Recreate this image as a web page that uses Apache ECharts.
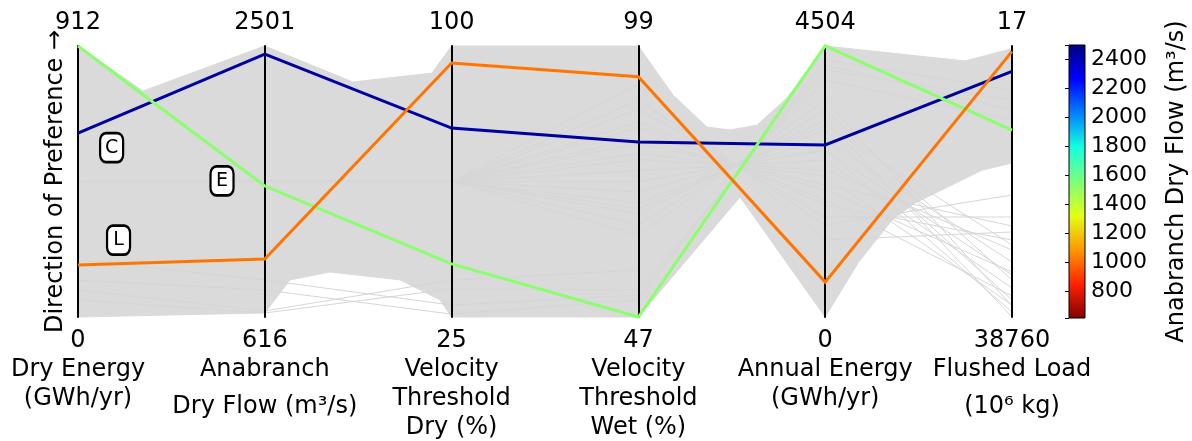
<!DOCTYPE html>
<html><head><meta charset="utf-8">
<script src="https://cdn.jsdelivr.net/npm/echarts@6/dist/echarts.min.js"></script>
<style>html,body{margin:0;padding:0;background:#fff}#c{width:1192px;height:441px}</style>
</head><body><div id="c"></div>
<script>
// ---- data ----
const axisTitles = [
  ['Dry Energy', '(GWh/yr)'],
  ['Anabranch', 'Dry Flow (m³/s)'],
  ['Velocity', 'Threshold', 'Dry (%)'],
  ['Velocity', 'Threshold', 'Wet (%)'],
  ['Annual Energy', '(GWh/yr)'],
  ['Flushed Load', '(10⁶ kg)']
];
const topTicks = [912, 2501, 100, 99, 4504, 17];
const bottomTicks = [0, 616, 25, 47, 0, 38760];

// highlighted solutions (C, E, L)
const highlightNames = ['C', 'E', 'L'];
const solutionC = [619, 2445, 77.3, 80.6, 2859, 3650];
const solutionE = [912, 1527, 39.7, 47, 4504, 12027];
const solutionL = [175, 1019, 95.3, 93.1, 580, 780];

// sparse individual background solutions visible outside the dense band
const sparseSolutions = [
  [57, 644, 32.8, 52.2, 4105, 7738],
  [124, 804, 25.8, 50.3, 4271, 6308],
  [192, 873, 28.3, 51.2, 4188, 9168],
  [91, 658, 35.2, 56.0, 3939, 10598],
  [456, 1559, 62.5, 66.8, 3274, 38760],
  [456, 1559, 62.5, 73.0, 2776, 38045],
  [456, 1559, 62.5, 78.4, 2343, 37044],
  [456, 1559, 62.5, 83.4, 1945, 35758],
  [456, 1559, 62.5, 68.9, 3108, 36330],
  [456, 1559, 62.5, 75.1, 2609, 34614],
  [456, 1559, 62.5, 64.7, 3440, 33471],
  [456, 1559, 62.5, 81.3, 2111, 32327],
  [456, 1559, 62.5, 86.9, 1662, 24464],
  [456, 1559, 62.5, 71.0, 2942, 30898],
  [456, 1559, 62.5, 91.7, 1280, 26608],
  [456, 1559, 62.5, 62.7, 3607, 37187],
  [456, 1559, 62.5, 77.2, 2443, 29182],
  [456, 1559, 62.5, 84.4, 1861, 27752],
  [456, 1559, 62.5, 88.6, 1529, 21319],
  [456, 1559, 62.5, 67.8, 3191, 28467],
  [456, 1559, 62.5, 80.3, 2194, 25751],
  [456, 1559, 62.5, 73.0, 2776, 32756]
];

// envelope of the dense band of all solutions: [axis index, % of axis height]
const bandUpper = [
  [0, 100], [0.348, 83.4], [1, 100], [1.472, 86.7], [1.895, 90], [2, 100],
  [3, 100], [3.185, 81.9], [3.367, 70.1], [3.49, 69], [3.635, 70.8], [3.795, 80.8],
  [4, 100], [4.5, 96.3], [4.75, 94.5], [5, 99]
];
const bandLower = [
  [0, 0], [1, 1.5], [1.135, 13.7], [1.349, 16.6], [1.724, 13.7], [1.938, 6.3], [2, 0],
  [3, 0], [3.544, 44.3], [4, 0], [4.176, 20], [4.358, 35.8], [4.481, 42.1],
  [4.657, 48], [4.839, 54.2], [5, 56.8]
];

// label boxes: [axis index, % of axis height]
const labelBoxes = [[0.18, 62.5], [0.771, 50.2], [0.217, 28.4]];

const colorRange = [616, 2501];
const colorbarTickStep = 200;
const jetReversed = ['#800000', '#ff2100', '#ff9700', '#e2ff15', '#7cff7a', '#15ffe2', '#0080ff', '#0000ff', '#000080'];
const yTitle = 'Direction of Preference →';
const colorbarTitle = 'Anabranch Dry Flow (m³/s)';

// ---- chart ----
const FONT = 'DejaVu Sans';
const chart = echarts.init(document.getElementById('c'), null, {renderer: 'canvas'});

const richStyles = {
  v: {fontSize: 24, lineHeight: 29, fontFamily: FONT, color: '#000'},
  t: {fontSize: 24, lineHeight: 29, fontFamily: FONT, color: '#000'},
  s: {fontSize: 24, lineHeight: 45, fontFamily: FONT, color: '#000'}
};
function bottomText(i) {
  const lines = ['{v|' + bottomTicks[i] + '}'].concat(
    axisTitles[i].map(l => (/[³⁶]/.test(l) ? '{s|' : '{t|') + l + '}'));
  return lines.join('\n');
}

const parallelAxis = topTicks.map((t, i) => {
  const b = bottomTicks[i];
  const inv = t < b;
  return {
    dim: i, type: 'value', min: Math.min(t, b), max: Math.max(t, b), inverse: inv,
    name: String(t), nameLocation: inv ? 'start' : 'end', nameGap: 11,
    nameMoveOverlap: false,
    nameTextStyle: {fontSize: 24, color: '#000', fontFamily: FONT, lineHeight: 24},
    axisLine: {show: true, lineStyle: {color: '#000', width: 2}},
    axisTick: {show: false},
    splitLine: {show: false},
    z: 3,
    axisLabel: {
      show: true, showMinLabel: true, showMaxLabel: true, margin: 0,
      align: 'center', verticalAlign: 'top', padding: [9, 0, 0, 0],
      formatter: v => (v === b ? bottomText(i) : ''),
      rich: richStyles
    }
  };
});

const gradStops = jetReversed.map((c, i) => ({offset: i / (jetReversed.length - 1), color: c}));

const option = {
  animation: false,
  backgroundColor: '#fff',
  textStyle: {fontFamily: FONT},
  parallel: {left: 78, right: 180, top: 46, bottom: 124, layout: 'horizontal'},
  parallelAxis: parallelAxis,
  grid: [
    {left: 78, top: 46, width: 934, height: 271, show: false},
    {left: 1069, top: 45, width: 16, height: 273, show: true,
     backgroundColor: {type: 'linear', x: 0, y: 1, x2: 0, y2: 0, colorStops: gradStops},
     borderColor: '#000', borderWidth: 1}
  ],
  xAxis: [
    {gridIndex: 0, type: 'value', min: 0, max: 5, show: false},
    {gridIndex: 1, type: 'value', min: 0, max: 1, show: false}
  ],
  yAxis: [
    {gridIndex: 0, type: 'value', min: 0, max: 100,
     axisLine: {show: false}, axisTick: {show: false}, axisLabel: {show: false}, splitLine: {show: false},
     name: yTitle, nameLocation: 'middle', nameRotate: 90, nameGap: 10, nameMoveOverlap: false,
     nameTextStyle: {fontSize: 24, color: '#000', fontFamily: FONT}},
    {gridIndex: 1, type: 'value', position: 'right', min: colorRange[0], max: colorRange[1], splitNumber: 9,
     axisLine: {show: false},
     axisTick: {show: true, inside: true, length: 4, lineStyle: {color: '#000', width: 1}},
     axisLabel: {fontSize: 22, color: '#000', margin: 6, fontFamily: FONT,
                 formatter: v => (v % colorbarTickStep === 0 ? String(v) : '')},
     splitLine: {show: false},
     name: colorbarTitle, nameLocation: 'middle', nameRotate: 90, nameGap: 80, nameMoveOverlap: false,
     nameTextStyle: {fontSize: 24, color: '#000', fontFamily: FONT}}
  ],
  visualMap: {
    type: 'continuous', show: false, min: colorRange[0], max: colorRange[1], dimension: 1,
    seriesIndex: 2, inRange: {color: jetReversed}
  },
  series: [
    {
      type: 'custom', coordinateSystem: 'cartesian2d', xAxisIndex: 0, yAxisIndex: 0, z: 1, silent: true,
      data: [[0, 0]], clip: false,
      renderItem: (params, api) => {
        const pts = bandUpper.map(p => api.coord(p))
          .concat(bandLower.slice().reverse().map(p => api.coord(p)));
        return {type: 'polygon', shape: {points: pts}, style: {fill: '#dadada', stroke: '#dadada', lineWidth: 1}};
      }
    },
    {
      type: 'parallel', z: 2, silent: true,
      lineStyle: {color: '#d6d6d6', width: 1, opacity: 1},
      data: sparseSolutions
    },
    {
      type: 'parallel', z: 4, silent: true,
      lineStyle: {width: 3, opacity: 1},
      data: [solutionC, solutionE, solutionL]
    },
    {
      type: 'scatter', xAxisIndex: 0, yAxisIndex: 0, z: 6, silent: true,
      symbol: 'roundRect', symbolSize: [23, 29],
      itemStyle: {color: '#fff', borderColor: '#000', borderWidth: 2.5, opacity: 1},
      label: {show: true, position: 'inside', formatter: '{b}', fontSize: 19, color: '#000', fontFamily: FONT},
      data: labelBoxes.map((p, i) => ({name: highlightNames[i], value: p}))
    }
  ]
};
chart.setOption(option);
</script>
</body></html>
